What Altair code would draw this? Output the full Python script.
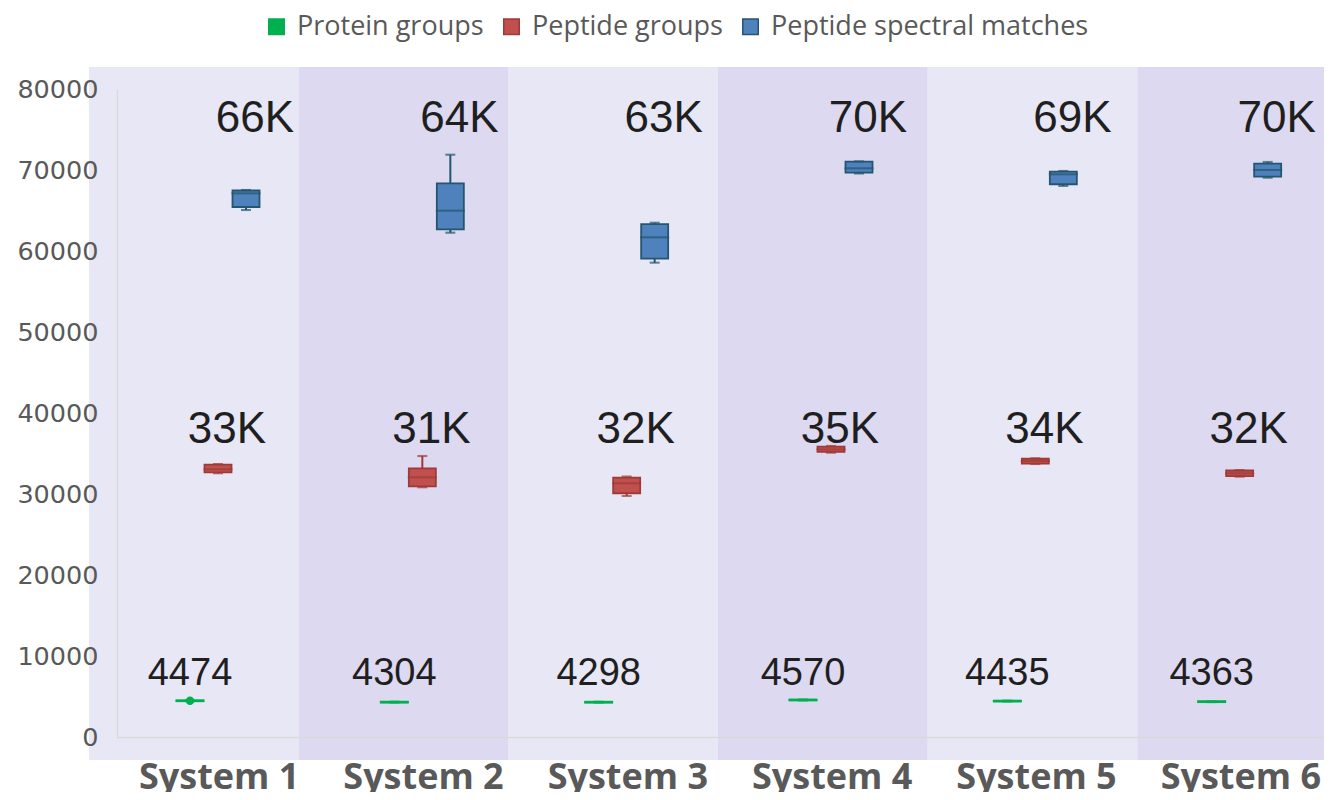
import altair as alt
import pandas as pd

systems = ["System 1", "System 2", "System 3", "System 4", "System 5", "System 6"]
metrics = ["Protein groups", "Peptide groups", "Peptide spectral matches"]

# Protein groups
protein_min = [4414, 4244, 4238, 4510, 4375, 4303]
protein_q1 = [4414, 4244, 4238, 4510, 4375, 4303]
protein_median = [4474, 4304, 4298, 4570, 4435, 4363]
protein_q3 = [4534, 4364, 4358, 4630, 4495, 4423]
protein_max = [4534, 4364, 4358, 4630, 4495, 4423]
protein_mean = [4474, None, None, None, None, None]
protein_labels = ["4474", "4304", "4298", "4570", "4435", "4363"]

# Peptide groups
peptide_min = [32560, 30830, 29750, 35100, 33700, 32140]
peptide_q1 = [32680, 30950, 30090, 35200, 33760, 32200]
peptide_median = [33050, 32060, 31320, 35500, 34070, 32550]
peptide_q3 = [33620, 33170, 32010, 35850, 34350, 32900]
peptide_max = [33700, 34690, 32140, 35930, 34410, 32960]
peptide_labels = ["33K", "31K", "32K", "35K", "34K", "32K"]

# Peptide spectral matches
psm_min = [65060, 62260, 58560, 69570, 68030, 69050]
psm_q1 = [65430, 62680, 59050, 69670, 68240, 69170]
psm_median = [67120, 64980, 61690, 70210, 69470, 70000]
psm_q3 = [67470, 68360, 63330, 71030, 69790, 70780]
psm_max = [67530, 71890, 63490, 71070, 69880, 70990]
psm_labels = ["66K", "64K", "63K", "70K", "69K", "70K"]

label_level = {"Protein groups": 6450, "Peptide groups": 36300, "Peptide spectral matches": 74730}

# background bands
band_start = [0, 1, 2, 3, 4, 5]
band_end = [1, 2, 3, 4, 5, 6]
band_tone = ["light", "dark", "light", "dark", "light", "dark"]

rows = []
series = [
    ("Protein groups", protein_min, protein_q1, protein_median, protein_q3, protein_max, protein_labels, protein_mean),
    ("Peptide groups", peptide_min, peptide_q1, peptide_median, peptide_q3, peptide_max, peptide_labels, [None] * 6),
    ("Peptide spectral matches", psm_min, psm_q1, psm_median, psm_q3, psm_max, psm_labels, [None] * 6),
]
for name, mn, q1, md, q3, mx, lab, mean in series:
    for i, s in enumerate(systems):
        rows.append(dict(system=s, metric=name, lo=mn[i], q1=q1[i], median=md[i], q3=q3[i], hi=mx[i],
                         label=lab[i], label_y=label_level[name], mean=mean[i]))
df = pd.DataFrame(rows)
bands = pd.DataFrame(dict(b0=band_start, b1=band_end, tone=band_tone))

fill_scale = alt.Scale(domain=metrics, range=["#00b050", "#c0504d", "#4f81bd"])
stroke_scale = alt.Scale(domain=metrics, range=["#00b050", "#9e3a38", "#24566f"])
legend = alt.Legend(title=None, orient="none", legendX=146, legendY=-76, direction="horizontal",
                    symbolType="square", symbolSize=240, labelFont="Open Sans", labelFontSize=27,
                    labelColor="#595959", labelOffset=7, columnPadding=14, symbolStrokeWidth=1.5,
                    padding=0, labelLimit=0)

x_axis = alt.Axis(title=None, labelAngle=0, labelFont="Open Sans", labelFontWeight="bold",
                  labelFontSize=36, labelColor="#595959", labelPadding=23, ticks=False,
                  domainColor="#d9d9d9", domainWidth=1.5, zindex=1)
y_axis = alt.Axis(title=None, values=list(range(0, 80001, 10000)), format="d", labelFont="DejaVu Sans",
                  labelFontSize=25.5, labelColor="#595959", labelPadding=19, ticks=False, grid=False,
                  domainColor="#d9d9d9", domainWidth=1.5, zindex=1)

x_enc = alt.X("system:N", scale=alt.Scale(domain=systems, range=[0, 1226], paddingInner=0, paddingOuter=0),
              axis=x_axis)
xo_enc = alt.XOffset("metric:N", scale=alt.Scale(domain=metrics, range=[59, 143], paddingInner=0, paddingOuter=0))
y_scale = alt.Scale(domain=[0, 80000], nice=False)


def Y(field):
    return alt.Y(field, type="quantitative", scale=y_scale, axis=y_axis)


stroke_enc = alt.Stroke("metric:N", scale=stroke_scale, legend=legend)
fill_enc = alt.Fill("metric:N", scale=fill_scale, legend=legend)

base = alt.Chart(df)

whisk = base.mark_rule(strokeWidth=2).encode(x=x_enc, xOffset=xo_enc, y=Y("lo"), y2="hi", stroke=stroke_enc)
box = base.mark_bar(size=27, strokeWidth=1.8).encode(x=x_enc, xOffset=xo_enc, y=Y("q1"), y2="q3",
                                                      fill=fill_enc, stroke=stroke_enc)
med = base.mark_tick(filled=False, size=27, thickness=0.1, strokeWidth=2).encode(
    x=x_enc, xOffset=xo_enc, y=Y("median"), stroke=stroke_enc)
cap_lo = base.mark_tick(filled=False, size=8, thickness=0.1, strokeWidth=2).encode(
    x=x_enc, xOffset=xo_enc, y=Y("lo"), stroke=stroke_enc)
cap_hi = base.mark_tick(filled=False, size=8, thickness=0.1, strokeWidth=2).encode(
    x=x_enc, xOffset=xo_enc, y=Y("hi"), stroke=stroke_enc)
mean_pt = base.transform_filter("datum.mean != null").mark_point(filled=True, size=70, color="#00b050", opacity=1).encode(
    x=x_enc, xOffset=xo_enc, y=Y("mean"))


def text_layer(metric, font, size, dx):
    return base.transform_filter(alt.datum.metric == metric).mark_text(
        font=font, fontSize=size, color="#1f1f1f", baseline="alphabetic", align="center", dx=dx
    ).encode(x=x_enc, xOffset=xo_enc, y=Y("label_y"), text="label:N")


t_psm = text_layer("Peptide spectral matches", "Liberation Sans", 44, 9)
t_pep = text_layer("Peptide groups", "Liberation Sans", 44, 9)
t_pro = text_layer("Protein groups", "Liberation Sans", 38, 0)

boxes = alt.layer(whisk, box, med, cap_lo, cap_hi, mean_pt, t_psm, t_pep, t_pro)

shade_x = alt.X("b0:Q", scale=alt.Scale(domain=[0, 6], range=[-28, 1230], nice=False, zero=False), axis=None)
light = alt.Chart(bands).transform_filter(alt.datum.tone == "light").mark_rect(fill="#e8e7f6").encode(
    x=shade_x, x2="b1:Q", y=alt.value(-22), y2=alt.value(671))
dark = alt.Chart(bands).transform_filter(alt.datum.tone == "dark").mark_rect(fill="#dcd9f1").encode(
    x=shade_x, x2="b1:Q", y=alt.value(-22), y2=alt.value(671))
shading = alt.layer(light, dark)

chart = alt.layer(shading, boxes).resolve_scale(x="independent").properties(
    width=1207, height=648,
    autosize=alt.AutoSizeParams(type="none"),
    padding={"left": 109, "top": 81, "right": 0, "bottom": 55},
    background="white",
).configure_view(stroke=None)

chart.save("out.html", embed_options={"renderer": "svg", "actions": False})
